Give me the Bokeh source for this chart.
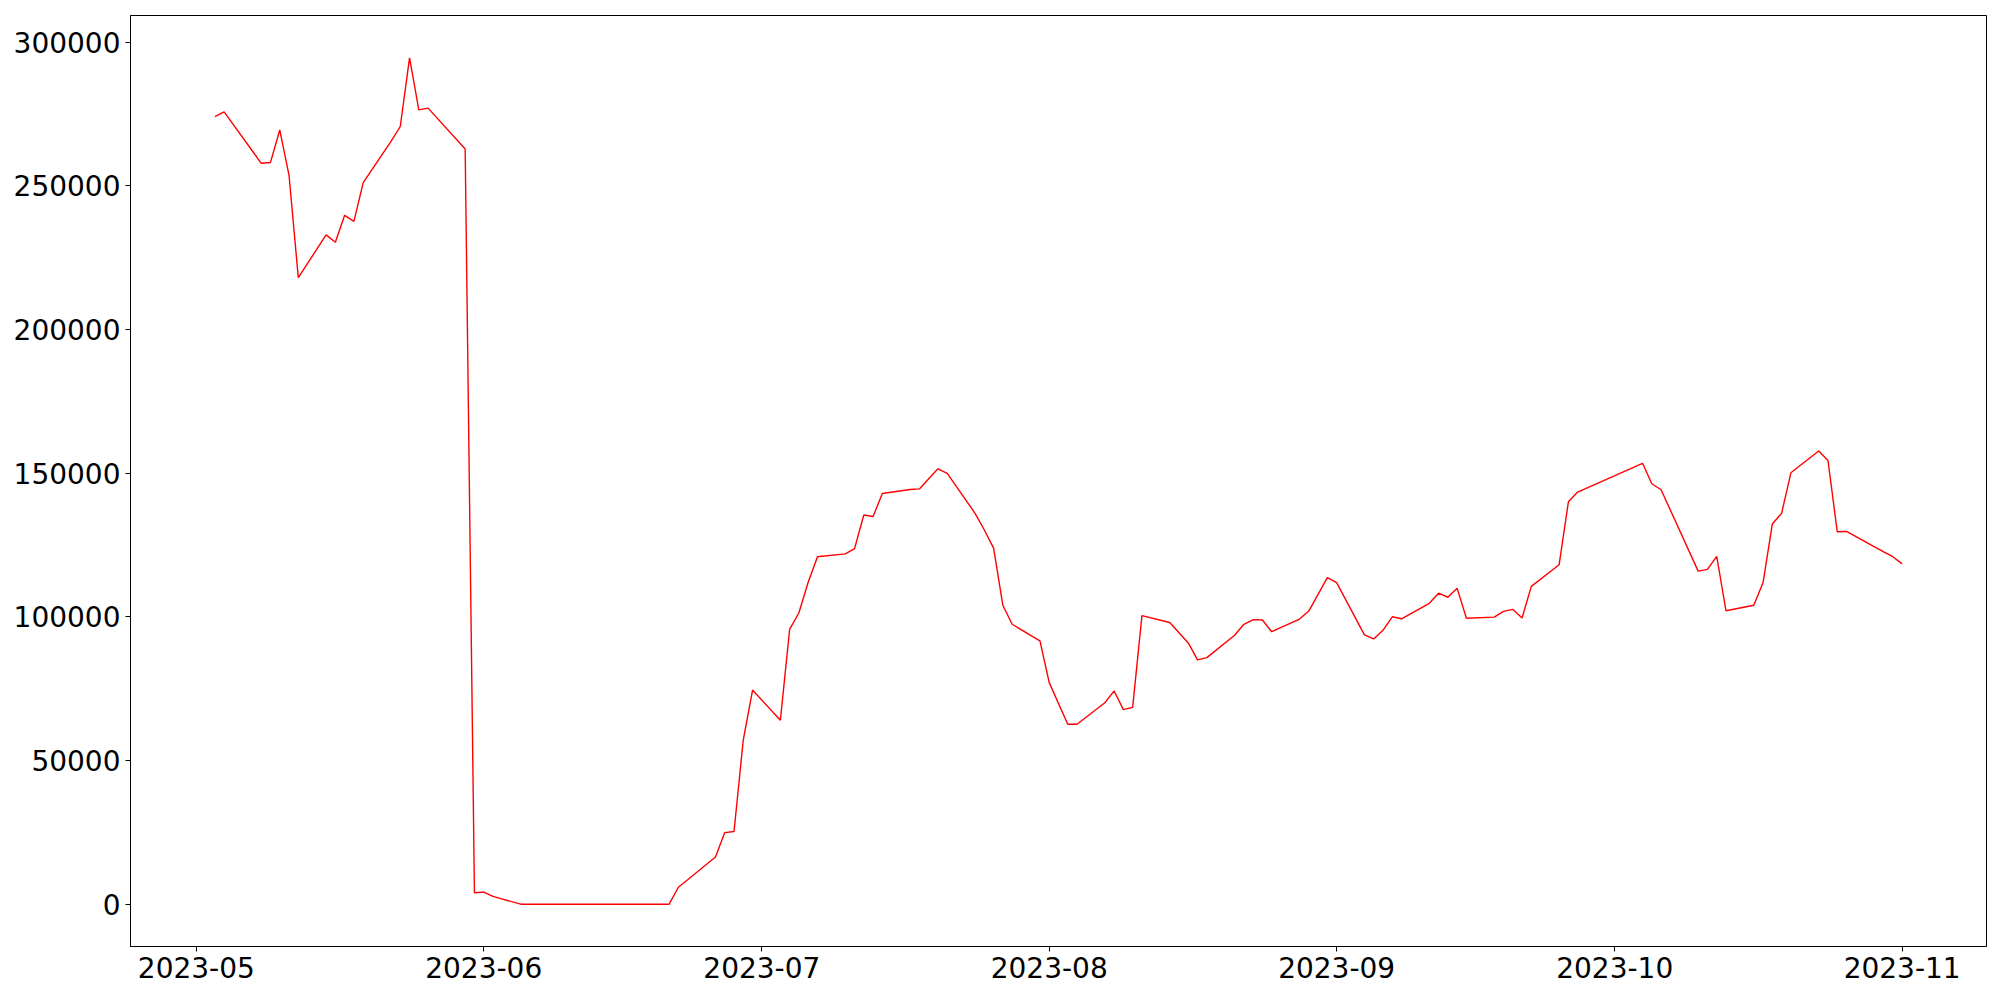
import pandas as pd
from bokeh.plotting import figure
from bokeh.models import Range1d, FixedTicker, DatetimeTickFormatter, NumeralTickFormatter
from bokeh.embed import file_html
from bokeh.resources import INLINE

dates = [
    "2023-05-03", "2023-05-04", "2023-05-08", "2023-05-09", "2023-05-10", "2023-05-11", "2023-05-12",
    "2023-05-15", "2023-05-16", "2023-05-17", "2023-05-18", "2023-05-19",
    "2023-05-22", "2023-05-23", "2023-05-24", "2023-05-25", "2023-05-26",
    "2023-05-30", "2023-05-31", "2023-06-01", "2023-06-02",
    "2023-06-05", "2023-06-06", "2023-06-07", "2023-06-08", "2023-06-09",
    "2023-06-12", "2023-06-13", "2023-06-14", "2023-06-15", "2023-06-16",
    "2023-06-20", "2023-06-21", "2023-06-22", "2023-06-23",
    "2023-06-26", "2023-06-27", "2023-06-28", "2023-06-29", "2023-06-30",
    "2023-07-03", "2023-07-04", "2023-07-05", "2023-07-06", "2023-07-07",
    "2023-07-10", "2023-07-11", "2023-07-12", "2023-07-13", "2023-07-14",
    "2023-07-17", "2023-07-18", "2023-07-19", "2023-07-20", "2023-07-21",
    "2023-07-24", "2023-07-25", "2023-07-26", "2023-07-27", "2023-07-28",
    "2023-07-31", "2023-08-01", "2023-08-03", "2023-08-04",
    "2023-08-07", "2023-08-08", "2023-08-09", "2023-08-10", "2023-08-11",
    "2023-08-14", "2023-08-16", "2023-08-17", "2023-08-18",
    "2023-08-21", "2023-08-22", "2023-08-23", "2023-08-24", "2023-08-25",
    "2023-08-28", "2023-08-29", "2023-08-31", "2023-09-01",
    "2023-09-04", "2023-09-05", "2023-09-06", "2023-09-07", "2023-09-08",
    "2023-09-11", "2023-09-12", "2023-09-13", "2023-09-14", "2023-09-15",
    "2023-09-18", "2023-09-19", "2023-09-20", "2023-09-21", "2023-09-22",
    "2023-09-25", "2023-09-26", "2023-09-27",
    "2023-10-04", "2023-10-05", "2023-10-06",
    "2023-10-10", "2023-10-11", "2023-10-12", "2023-10-13",
    "2023-10-16", "2023-10-17", "2023-10-18", "2023-10-19", "2023-10-20",
    "2023-10-23", "2023-10-24", "2023-10-25", "2023-10-26",
    "2023-10-30", "2023-10-31", "2023-11-01",
]

values = [
    274000, 275700, 257800, 258100, 269400, 253600, 218000,
    232900, 230300, 239700, 237600, 251100,
    265400, 270600, 294500, 276400, 277000,
    262800, 4000, 4200, 2700,
    0, 0, 0, 0, 0,
    0, 0, 0, 0, 0,
    0, 0, 5900, 8500,
    16400, 24900, 25300, 57200, 74500,
    64000, 95600, 101400, 112000, 120900,
    121900, 123700, 135400, 134900, 142900,
    144300, 144500, 148000, 151500, 149900,
    136000, 130200, 123900, 104000, 97400,
    91600, 77100, 62600, 62600,
    70100, 74200, 67700, 68500, 100400,
    98000, 90900, 85000, 85800,
    93600, 97400, 99000, 98900, 94800,
    99200, 102000, 113600, 111900,
    93700, 92300, 95300, 100000, 99300,
    104700, 108200, 106800, 109900, 99500,
    99900, 101900, 102600, 99600, 110600,
    118100, 140000, 143400,
    153400, 146300, 144200,
    115900, 116500, 121000, 102100,
    104000, 111900, 132300, 136000, 150100,
    157700, 154400, 129600, 129700,
    122600, 120900, 118400,
]

x_tick_labels = ["2023-05", "2023-06", "2023-07", "2023-08", "2023-09", "2023-10", "2023-11"]
y_ticks = [0, 50000, 100000, 150000, 200000, 250000, 300000]

x = pd.to_datetime(dates)
x_ms = (x - pd.Timestamp("1970-01-01")) // pd.Timedelta(milliseconds=1)
x_ms = [float(v) for v in x_ms]
tick_ms = [float((pd.Timestamp(t + "-01") - pd.Timestamp("1970-01-01")) // pd.Timedelta(milliseconds=1))
           for t in x_tick_labels]

xmin, xmax = min(x_ms), max(x_ms)
xpad = 0.05 * (xmax - xmin)
ymin, ymax = min(values), max(values)
ypad = 0.05 * (ymax - ymin)

p = figure(width=2000, height=1000, x_axis_type="datetime",
           output_backend="svg", toolbar_location=None,
           x_range=Range1d(xmin - xpad, xmax + xpad),
           y_range=Range1d(ymin - ypad, ymax + ypad),
           min_border_left=130, min_border_right=14,
           min_border_top=15, min_border_bottom=54)

p.line(x_ms, values, line_color="red", line_width=1.4)

p.xgrid.visible = False
p.ygrid.visible = False
p.outline_line_color = "black"
p.outline_line_alpha = 1.0
p.outline_line_width = 1
p.background_fill_color = "white"
p.border_fill_color = "white"

fmt = "%Y-%m"
p.xaxis.ticker = FixedTicker(ticks=tick_ms)
p.xaxis.formatter = DatetimeTickFormatter(
    milliseconds=fmt, seconds=fmt, minsec=fmt, minutes=fmt, hourmin=fmt,
    hours=fmt, days=fmt, months=fmt, years=fmt)
p.yaxis.ticker = FixedTicker(ticks=y_ticks)
p.yaxis.formatter = NumeralTickFormatter(format="0")

for ax in (p.xaxis[0], p.yaxis[0]):
    ax.major_label_text_font = "DejaVu Sans"
    ax.major_label_text_font_size = "28px"
    ax.major_label_text_color = "black"
    ax.axis_line_color = "black"
    ax.major_tick_line_color = "black"
    ax.major_tick_out = 5
    ax.major_tick_in = 0
    ax.minor_tick_line_color = None
    ax.major_label_standoff = 5

open("out.html", "w").write(file_html(p, INLINE))
